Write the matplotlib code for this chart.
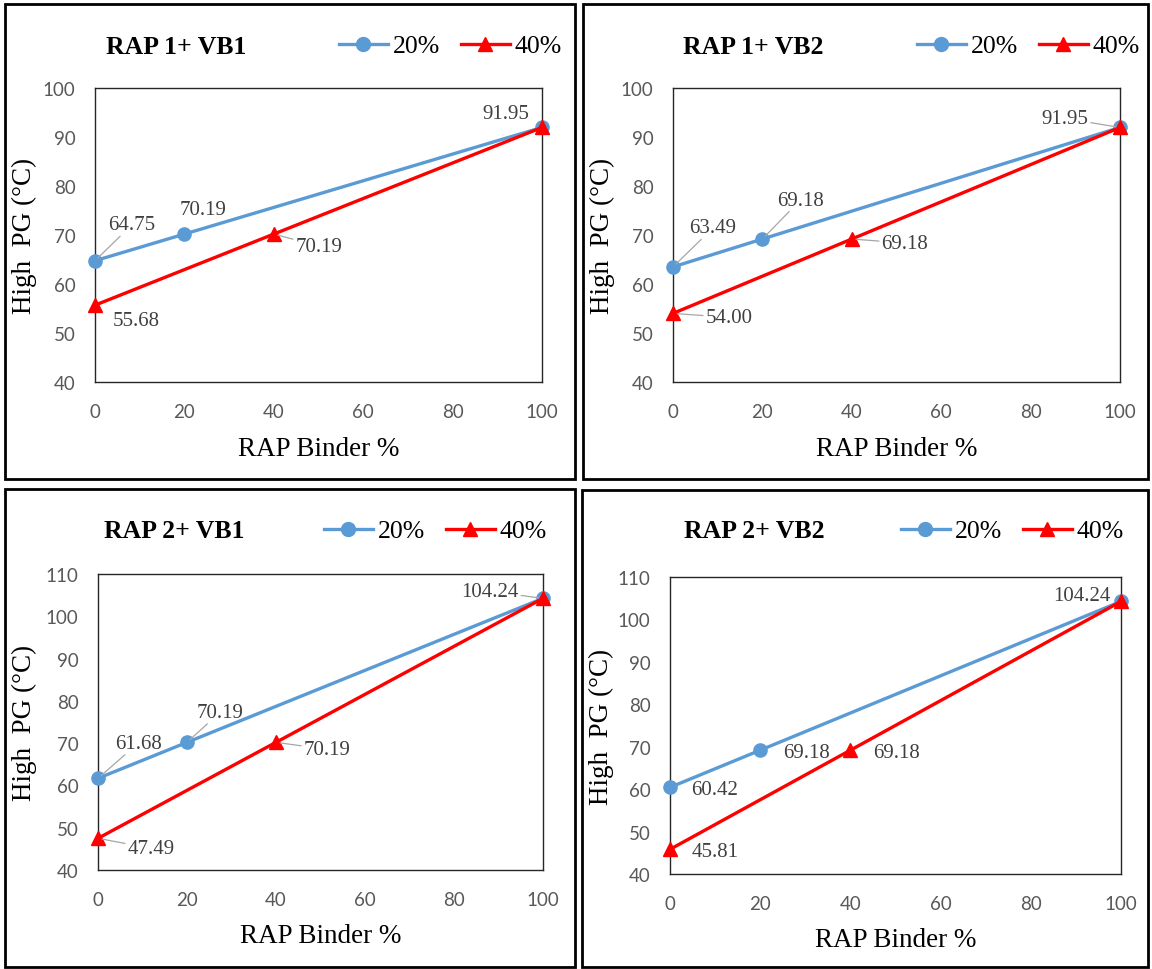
import matplotlib
matplotlib.use("Agg")
import matplotlib.pyplot as plt
from matplotlib.patches import Rectangle
from matplotlib.lines import Line2D

plt.rcParams['font.family'] = ['Liberation Serif', 'DejaVu Serif']

# ---------------- data ----------------
titles = ["RAP 1+ VB1", "RAP 1+ VB2", "RAP 2+ VB1", "RAP 2+ VB2"]
series_names = ["20%", "40%"]
x_20 = [0, 20, 100]
x_40 = [0, 40, 100]
pg_20 = [
    [64.75, 70.19, 91.95],
    [63.49, 69.18, 91.95],
    [61.68, 70.19, 104.24],
    [60.42, 69.18, 104.24],
]
pg_40 = [
    [55.68, 70.19, 91.95],
    [54.00, 69.18, 91.95],
    [47.49, 70.19, 104.24],
    [45.81, 69.18, 104.24],
]
y_max = [100, 100, 110, 110]
x_ticks = [0, 20, 40, 60, 80, 100]

# ---------------- styling / layout ----------------
W, H = 1152, 970
BLUE = "#5B9BD5"
RED = "#FF0000"
TICK_FONT = ['Lato', 'Open Sans', 'DejaVu Sans']

fig = plt.figure(figsize=(W / 100, H / 100), dpi=100)


def fx(px):
    return px / W


def fy(py):
    return 1 - py / H


# panel frames (pixels: x0, y0, x1, y1)
frames = [(5, 5, 575, 480), (583, 5, 1148, 480), (5, 490, 575, 968), (582, 491, 1148, 968)]
# axes areas (pixels: left, top, right, bottom)
axes_px = [(95, 89, 542, 383), (673, 89, 1120, 383), (98, 575, 543, 871), (670, 578, 1121, 875)]
title_pos = [(176, 47), (753, 47), (174, 532), (754, 532)]
legend_right = [(562, 47), (1140, 47), (547, 532), (1124, 532)]

# data label offsets (pixels) : blue0, blue20, blue100, red0, red40
label_offsets = [
    [(37, 36), (19, 25), (-36, 14), (41, -15), (45, -12)],
    [(40, 39), (38, 39), (-55, 9), (56, -4), (53, -4)],
    [(40, 35), (33, 30), (-53, 7), (53, -10), (51, -7)],
    [(45, -2), (46, -2), (-39, 6), (45, -2), (46, -2)],
]
leaders = [
    [True, False, False, False, True],
    [True, True, True, True, True],
    [True, True, True, True, True],
    [False, False, False, False, False],
]

for i in range(4):
    x0, y0, x1, y1 = frames[i]
    fig.patches.append(Rectangle((fx(x0), fy(y1)), fx(x1 - x0), (y1 - y0) / H,
                                 transform=fig.transFigure, fill=False,
                                 ec="black", lw=2.0, zorder=0))

    l, t, r, b = axes_px[i]
    ax = fig.add_axes([fx(l), fy(b), fx(r - l), (b - t) / H])
    ax.plot(x_20, pg_20[i], color=BLUE, lw=2.4, marker="o", ms=9.5,
            clip_on=False, zorder=3, label=series_names[0])
    ax.plot(x_40, pg_40[i], color=RED, lw=2.4, marker="^", ms=9.5,
            clip_on=False, zorder=4, label=series_names[1])
    ax.set_xlim(0, 100)
    ax.set_ylim(40, y_max[i])
    ax.set_xticks(x_ticks)
    ax.set_yticks(list(range(40, y_max[i] + 1, 10)))
    ax.tick_params(length=0, labelsize=13.5, colors="#595959")
    ax.tick_params(axis="x", pad=15)
    ax.tick_params(axis="y", pad=14)
    for lab in ax.get_xticklabels() + ax.get_yticklabels():
        lab.set_family(TICK_FONT)
    for sp in ax.spines.values():
        sp.set_color("#262626")
        sp.set_linewidth(1.0)

    pts = [(x_20[0], pg_20[i][0]), (x_20[1], pg_20[i][1]), (x_20[2], pg_20[i][2]),
           (x_40[0], pg_40[i][0]), (x_40[1], pg_40[i][1])]
    for k, (px_, py_) in enumerate(pts):
        dx, dy = label_offsets[i][k]
        kw = {}
        if leaders[i][k]:
            kw["arrowprops"] = dict(arrowstyle="-", color="#A6A6A6", lw=0.9,
                                    shrinkA=1, shrinkB=3)
        ax.annotate(f"{py_:.2f}", xy=(px_, py_), xytext=(dx, dy),
                    textcoords="offset pixels", ha="center", va="center",
                    fontsize=15, color="#404040",
                    bbox=dict(boxstyle="square,pad=0.05", fc="none", ec="none"),
                    zorder=5, annotation_clip=False, **kw)

    # axis labels
    fig.text(fx((l + r) / 2), fy(b + 66), "RAP Binder %", ha="center", va="center",
             fontsize=19.5, color="black")
    fig.text(fx(frames[i][0] + 19), fy((t + b) / 2), "High  PG (\u00b0C)", ha="center",
             va="center", rotation=90, fontsize=19.5, color="black")

    # title
    tx, ty = title_pos[i]
    fig.text(fx(tx), fy(ty), titles[i], ha="center", va="center", fontsize=18.5,
             fontweight="bold", color="black")

    # legend
    lx, ly = legend_right[i]
    handles = [Line2D([], [], color=BLUE, lw=2.4, marker="o", ms=10),
               Line2D([], [], color=RED, lw=2.4, marker="^", ms=10)]
    fig.legend(handles, series_names, loc="center right",
               bbox_to_anchor=(fx(lx), fy(ly)), bbox_transform=fig.transFigure,
               ncol=2, frameon=False, fontsize=18.5, handlelength=1.9,
               handletextpad=0.2, columnspacing=0.8, borderpad=0.0,
               borderaxespad=0.0, markerscale=1.0)

fig.savefig("out.png", dpi=100, facecolor="white")
